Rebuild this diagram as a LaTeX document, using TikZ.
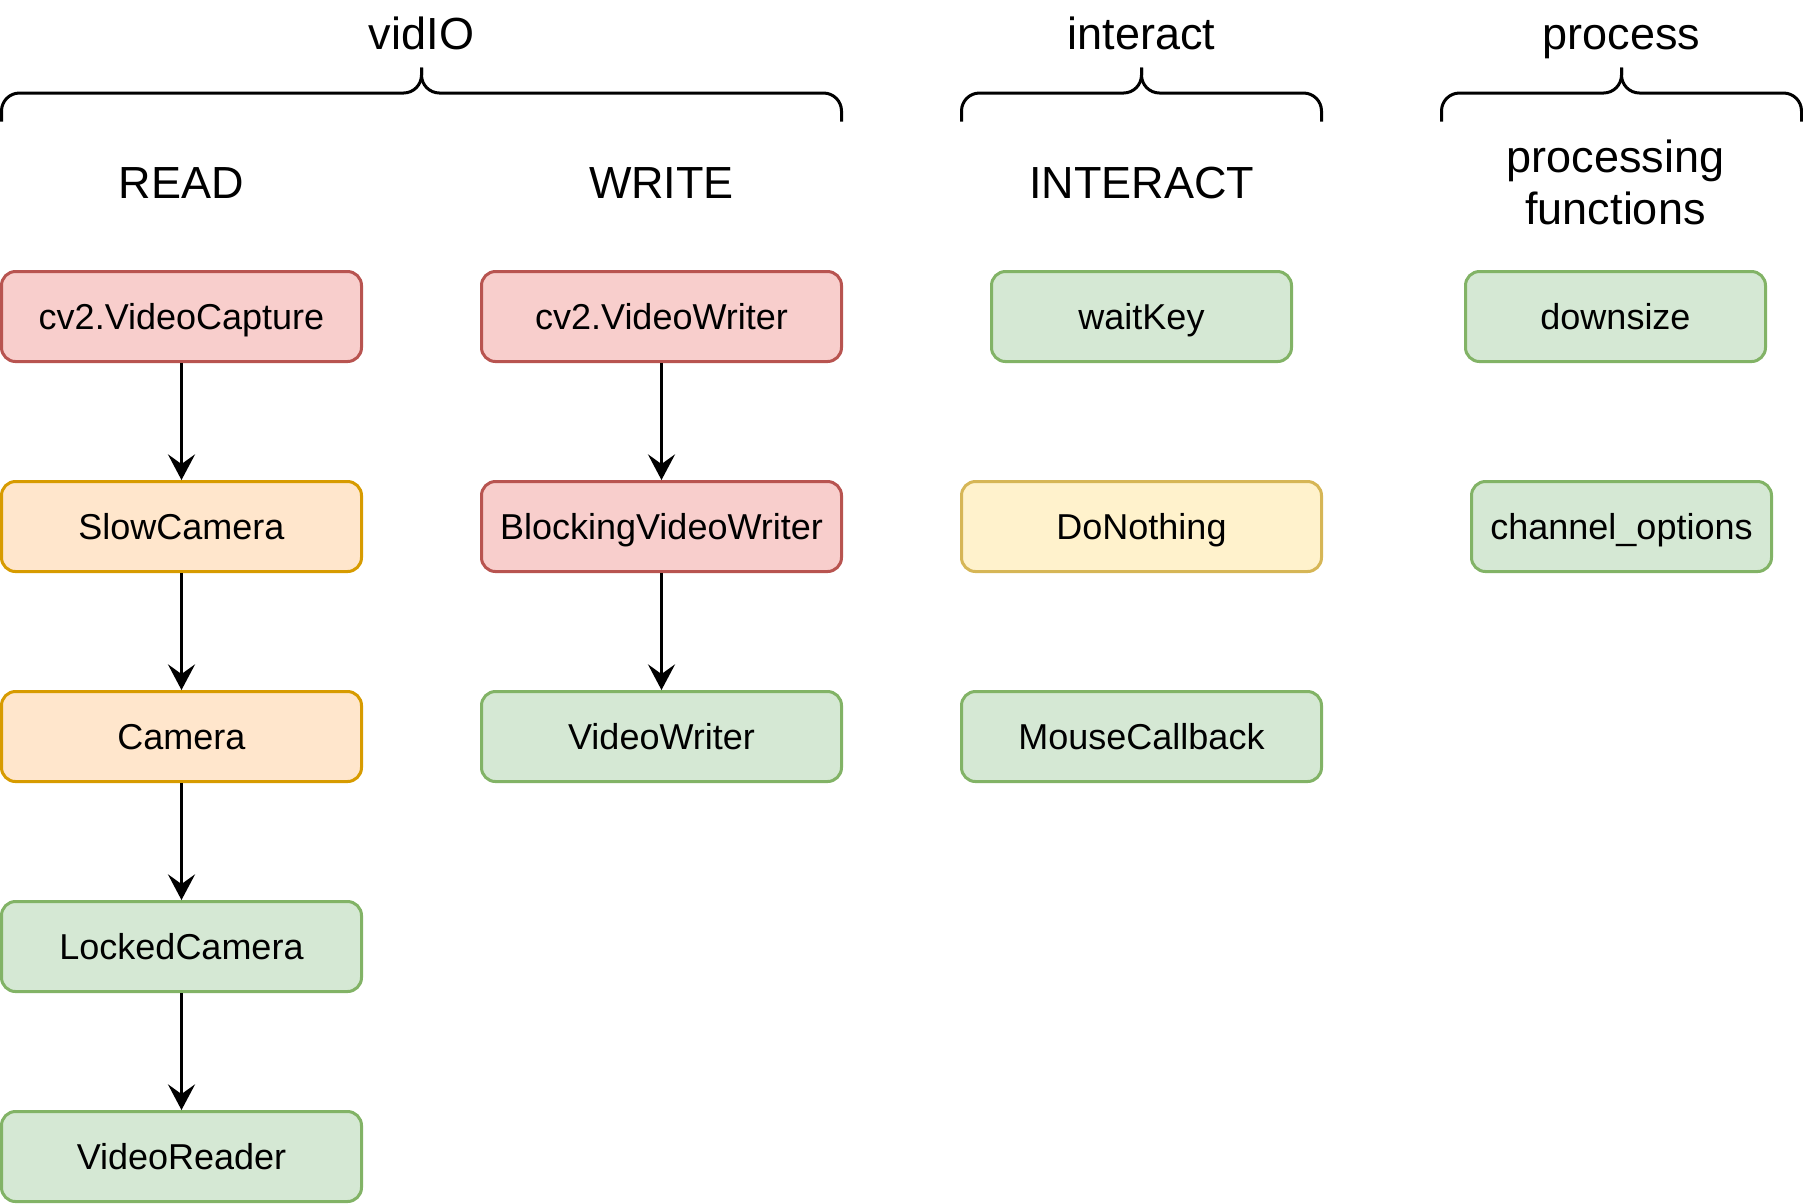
\documentclass[tikz,border=0pt]{standalone}
\usepackage{fontspec}
\setmainfont{Liberation Sans}
\usetikzlibrary{positioning, arrows.meta}
\definecolor{redfill}{HTML}{F8CECC}
\definecolor{redline}{HTML}{B85450}
\definecolor{orangefill}{HTML}{FFE6CC}
\definecolor{orangeline}{HTML}{D79B00}
\definecolor{greenfill}{HTML}{D5E8D4}
\definecolor{greenline}{HTML}{82B366}
\definecolor{yellowfill}{HTML}{FFF2CC}
\definecolor{yellowline}{HTML}{D6B656}

\begin{document}
\begin{tikzpicture}[x=0.75pt, y=-0.75pt, font=\fontsize{9}{10.8}\selectfont,
  cls/.style={line width=0.75pt, rounded corners=3.5pt, minimum width=90pt, minimum height=22.5pt, align=center, inner sep=2pt, text height=8pt, text depth=1.4pt},
  narrow/.style={minimum width=75pt},
  clsred/.style={cls, draw=redline, fill=redfill},
  clsorange/.style={cls, draw=orangeline, fill=orangefill},
  clsgreen/.style={cls, draw=greenline, fill=greenfill},
  clsyellow/.style={cls, draw=yellowline, fill=yellowfill},
  head/.style={font=\fontsize{11.25}{13.2}\selectfont, align=center, inner sep=0pt},
  curly/.style={line width=0.75pt, rounded corners=4.5pt},
  arrow/.style={line width=0.75pt, -{Stealth[length=6.4pt, width=6.75pt, inset=2.4pt]}}]

  \useasboundingbox (-0.5,-0.5) rectangle (600.5,400.5);

  % Module braces
  \foreach \l/\m/\r in {0/140/280, 320/380/440, 480/540/600} {
    \draw[curly] (\l,40) |- (\m,30.5) -- (\m,22);
    \draw[curly] (\r,40) |- (\m,30.5) -- (\m,22);
  }
  \node[head, anchor=base] (vidio) at (140,16) {vidIO};
  \node[head, anchor=base] (interactmod) at (380,16) {interact};
  \node[head, anchor=base] (processmod) at (540,16) {process};

  % Column headings
  \node[head, anchor=base] (read) at (60,65.7) {READ};
  \node[head, anchor=base] (write) at (220,65.7) {WRITE};
  \node[head, anchor=base] (interacthead) at (380,65.7) {INTERACT};
  \node[head] (procfn) at (538,60.3) {processing\\functions};

  % READ
  \node[clsred] (capture) at (60,105) {cv2.VideoCapture};
  \node[clsorange] (slowcam) at (60,175) {SlowCamera};
  \node[clsorange] (camera) at (60,245) {Camera};
  \node[clsgreen] (lockedcam) at (60,315) {LockedCamera};
  \node[clsgreen] (reader) at (60,385) {VideoReader};

  % WRITE
  \node[clsred] (cvwriter) at (220,105) {cv2.VideoWriter};
  \node[clsred] (blockwriter) at (220,175) {BlockingVideoWriter};
  \node[clsgreen] (writer) at (220,245) {VideoWriter};

  % INTERACT
  \node[clsgreen, narrow] (waitkey) at (380,105) {waitKey};
  \node[clsyellow] (donothing) at (380,175) {DoNothing};
  \node[clsgreen] (mousecb) at (380,245) {MouseCallback};

  % processing functions
  \node[clsgreen, narrow] (downsize) at (538,105) {downsize};
  \node[clsgreen, narrow] (chanopts) at (540,175) {channel\_options};

  \draw[arrow] (capture) -- (slowcam);
  \draw[arrow] (slowcam) -- (camera);
  \draw[arrow] (camera) -- (lockedcam);
  \draw[arrow] (lockedcam) -- (reader);
  \draw[arrow] (cvwriter) -- (blockwriter);
  \draw[arrow] (blockwriter) -- (writer);
\end{tikzpicture}
\end{document}
